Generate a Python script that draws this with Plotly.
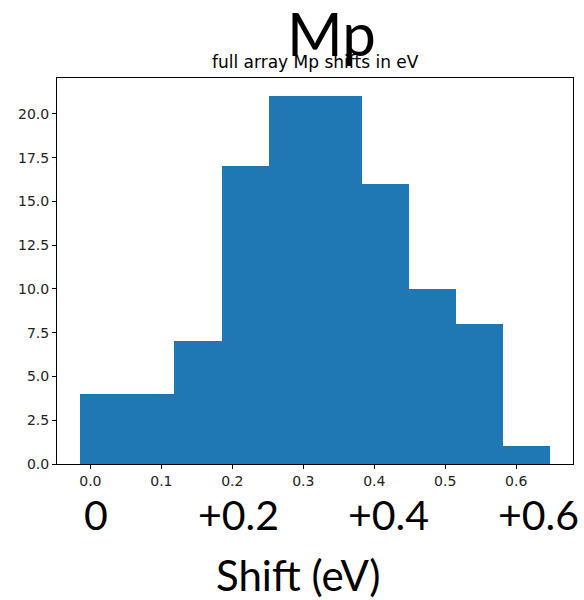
import plotly.graph_objects as go

# Histogram of Mp shifts (eV): bin edges and counts per bin
bin_edges = [-0.014, 0.052, 0.118, 0.185, 0.251, 0.317, 0.383, 0.449, 0.515, 0.581, 0.647]
counts = [4, 4, 7, 17, 21, 21, 16, 10, 8, 1]

x_ticks = [0.0, 0.1, 0.2, 0.3, 0.4, 0.5, 0.6]
y_ticks = [0.0, 2.5, 5.0, 7.5, 10.0, 12.5, 15.0, 17.5, 20.0]

shift_labels = ["0", "+0.2", "+0.4", "+0.6"]

centers = [(a + b) / 2 for a, b in zip(bin_edges[:-1], bin_edges[1:])]
widths = [b - a for a, b in zip(bin_edges[:-1], bin_edges[1:])]

W, H = 584, 600
L, R, T, B = 57, 11, 78, 136
pw, ph = W - L - R, H - T - B


def px(x):
    return (x - L) / pw


def py(y):
    return (H - B - y) / ph


fig = go.Figure()
fig.add_trace(go.Bar(
    x=centers, y=counts, width=widths,
    marker=dict(color="#1f77b4", line=dict(width=0)),
    hoverinfo="x+y",
))

span = bin_edges[-1] - bin_edges[0]
xmin = bin_edges[0] - 0.05 * span
xmax = bin_edges[-1] + 0.05 * span
ymax = max(counts) * 1.05

axis_common = dict(
    showgrid=False, zeroline=False, showline=True, mirror=True,
    linecolor="black", linewidth=1, ticks="outside", ticklen=4,
    tickwidth=1, tickcolor="black",
    tickfont=dict(family="DejaVu Sans", size=14, color="#222"),
)

fig.update_xaxes(range=[xmin, xmax], tickvals=x_ticks, tickformat=".1f", **axis_common)
fig.update_yaxes(range=[0, ymax], tickvals=y_ticks, tickformat=".1f", **axis_common)

annotations = [
    dict(text="Mp", x=px(331), y=py(33), font=dict(family="Lato", size=60, color="black")),
    dict(text="full array Mp shifts in eV", x=0.5, y=py(62),
         font=dict(family="DejaVu Sans", size=17, color="black")),
    dict(text="Shift (eV)", x=px(298), y=py(575), font=dict(family="Lato", size=42, color="black")),
]
for label, cx in zip(shift_labels, [96, 238, 388, 538]):
    annotations.append(dict(text=label, x=px(cx), y=py(514),
                            font=dict(family="Lato", size=41, color="black")))
for a in annotations:
    a.update(xref="paper", yref="paper", showarrow=False, xanchor="center", yanchor="middle")

fig.update_layout(
    width=W, height=H,
    margin=dict(l=L, r=R, t=T, b=B),
    paper_bgcolor="white", plot_bgcolor="white",
    bargap=0, showlegend=False,
    annotations=annotations,
)

fig.write_html("out.html")
